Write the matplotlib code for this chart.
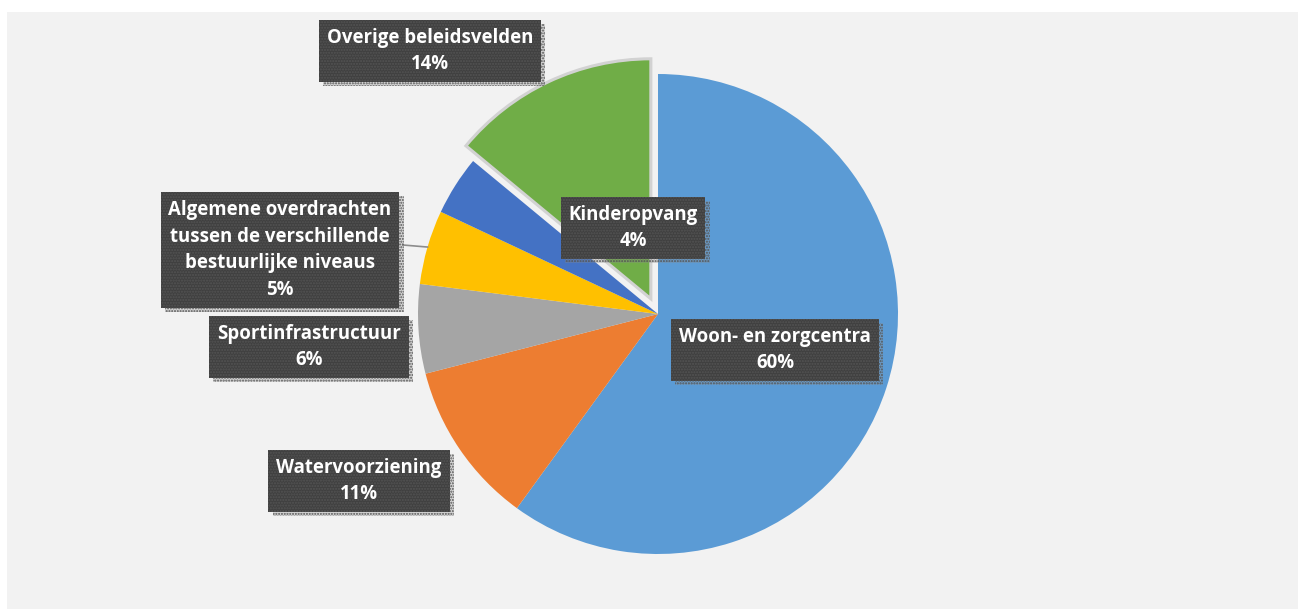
import matplotlib
matplotlib.use('Agg')
import matplotlib.pyplot as plt
from matplotlib.patches import Rectangle
import matplotlib.patheffects as pe
import numpy as np

categories = ['Woon- en zorgcentra', 'Watervoorziening', 'Sportinfrastructuur',
              'Algemene overdrachten\ntussen de verschillende\nbestuurlijke niveaus',
              'Kinderopvang', 'Overige beleidsvelden']
values = [60, 11, 6, 5, 4, 14]
colors = ['#5B9BD5', '#ED7D31', '#A5A5A5', '#FFC000', '#4472C4', '#70AD47']

# label box centres in image pixel coordinates (layout)
label_pos = [(775, 350), (359, 481), (309, 347), (280, 250), (633, 228), (430, 51)]

W, H = 1298, 609
fig = plt.figure(figsize=(W / 100, H / 100), dpi=100)
fig.patch.set_facecolor('white')
fig.patches.append(Rectangle((7 / W, 0), 1, (H - 12) / H, transform=fig.transFigure,
                             facecolor='#f2f2f2', edgecolor='none', zorder=-5))
ax = fig.add_axes([0, 0, 1, 1])
ax.set_facecolor('none')
ax.set_zorder(1)

cx, cy, R = 658, H - 314, 240
explode = [0, 0, 0, 0, 0, 0.07 * R]
wedges, _ = ax.pie(values, colors=colors, startangle=90, counterclock=False,
                   explode=explode, center=(cx, cy), radius=R,
                   wedgeprops=dict(linewidth=0))
wedges[5].set_edgecolor('#d2d2d2')
wedges[5].set_linewidth(2.2)

ax.set_xlim(0, W)
ax.set_ylim(0, H)
ax.set_aspect('equal')
ax.axis('off')

font = dict(family=['Open Sans', 'DejaVu Sans'], fontweight='bold', fontsize=13.4)

for i, (cat, v) in enumerate(zip(categories, values)):
    x, y = label_pos[i]
    s = f"{cat}\n{v}%"
    t = ax.text(x, H - y, s, ha='center', va='center', color='white', linespacing=1.45,
                zorder=5,
                bbox=dict(boxstyle='square,pad=0.42', facecolor='#404040',
                          edgecolor='#545454', linewidth=0, hatch='......'), **font)
    t.get_bbox_patch().set_path_effects([
        pe.SimplePatchShadow(offset=(3, -3), shadow_rgbFace='#909090', alpha=0.3),
        pe.Normal()])

# leader line for the Algemene label
w = wedges[3]
mid = np.deg2rad((w.theta1 + w.theta2) / 2)
px, py = w.center[0] + R * np.cos(mid), w.center[1] + R * np.sin(mid)
ax.plot([403, px], [H - 245, py], color='#8c8c8c', linewidth=1.2, zorder=3)

fig.savefig('out.png', dpi=100, facecolor=fig.get_facecolor())
